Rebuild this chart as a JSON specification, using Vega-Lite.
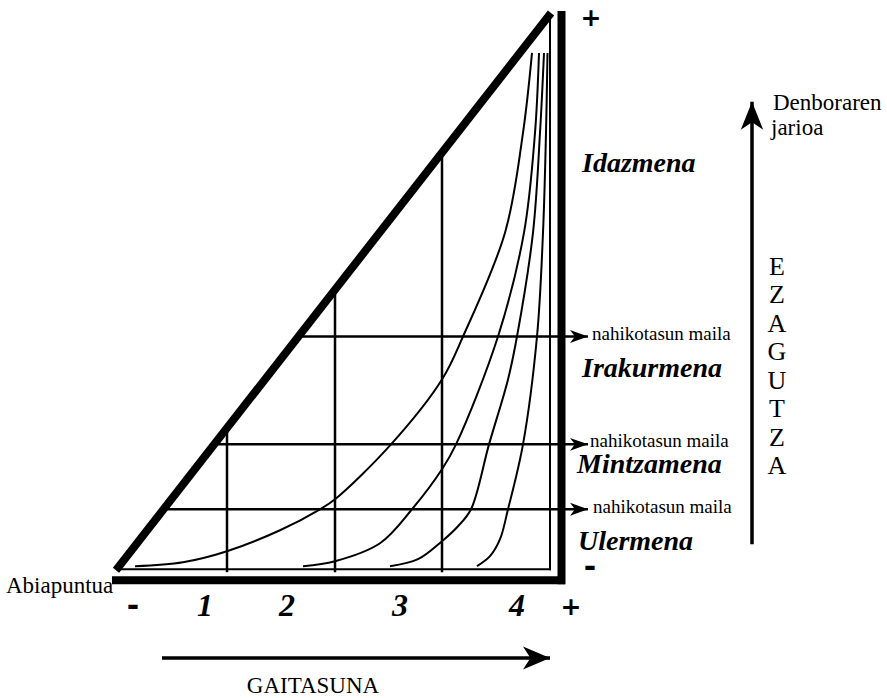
{
  "$schema": "https://vega.github.io/schema/vega-lite/v6.json",
  "width": 887,
  "height": 698,
  "autosize": {"type": "fit", "contains": "padding"},
  "padding": 0,
  "background": "white",
  "config": {"view": {"stroke": null}},
  "datasets": {
    "frame": [
      {"x": 116, "y": 571, "x2": 551, "y2": 13, "kind": "thick"},
      {"x": 561.5, "y": 11, "x2": 561.5, "y2": 585, "kind": "thick"},
      {"x": 112, "y": 581, "x2": 565, "y2": 581, "kind": "thick"},
      {"x": 116, "y": 570, "x2": 551, "y2": 570, "kind": "thin"},
      {"x": 550, "y": 14, "x2": 550, "y2": 571, "kind": "thin"},
      {"x": 227, "y": 431, "x2": 227, "y2": 573, "kind": "grid"},
      {"x": 335, "y": 290, "x2": 335, "y2": 573, "kind": "grid"},
      {"x": 442, "y": 153, "x2": 442, "y2": 573, "kind": "grid"}
    ],
    "arrows": [
      {"x": 298, "y": 337, "x2": 588, "y2": 337, "kind": "level"},
      {"x": 216, "y": 445, "x2": 588, "y2": 445, "kind": "level"},
      {"x": 164, "y": 510, "x2": 588, "y2": 510, "kind": "level"},
      {"x": 752, "y": 545, "x2": 752, "y2": 102, "kind": "time"},
      {"x": 162, "y": 659, "x2": 550, "y2": 659, "kind": "skill"}
    ],
    "curves": [
      {"curve": 1, "x": 135, "y": 567},
      {"curve": 1, "x": 183, "y": 563},
      {"curve": 1, "x": 227, "y": 552},
      {"curve": 1, "x": 280, "y": 531},
      {"curve": 1, "x": 320, "y": 510},
      {"curve": 1, "x": 335, "y": 500},
      {"curve": 1, "x": 391, "y": 445},
      {"curve": 1, "x": 442, "y": 380},
      {"curve": 1, "x": 463, "y": 337},
      {"curve": 1, "x": 505, "y": 233},
      {"curve": 1, "x": 523, "y": 133},
      {"curve": 1, "x": 532, "y": 53},
      {"curve": 2, "x": 303, "y": 567},
      {"curve": 2, "x": 335, "y": 562},
      {"curve": 2, "x": 380, "y": 544},
      {"curve": 2, "x": 412, "y": 510},
      {"curve": 2, "x": 442, "y": 470},
      {"curve": 2, "x": 456, "y": 445},
      {"curve": 2, "x": 498, "y": 337},
      {"curve": 2, "x": 524, "y": 233},
      {"curve": 2, "x": 535, "y": 133},
      {"curve": 2, "x": 539, "y": 53},
      {"curve": 3, "x": 390, "y": 567},
      {"curve": 3, "x": 418, "y": 560},
      {"curve": 3, "x": 442, "y": 542},
      {"curve": 3, "x": 458, "y": 527},
      {"curve": 3, "x": 471, "y": 510},
      {"curve": 3, "x": 489, "y": 445},
      {"curve": 3, "x": 508, "y": 380},
      {"curve": 3, "x": 517, "y": 337},
      {"curve": 3, "x": 533, "y": 233},
      {"curve": 3, "x": 540, "y": 133},
      {"curve": 3, "x": 544, "y": 53},
      {"curve": 4, "x": 477, "y": 567},
      {"curve": 4, "x": 490, "y": 557},
      {"curve": 4, "x": 500, "y": 540},
      {"curve": 4, "x": 508, "y": 510},
      {"curve": 4, "x": 523, "y": 445},
      {"curve": 4, "x": 537, "y": 337},
      {"curve": 4, "x": 543, "y": 233},
      {"curve": 4, "x": 546, "y": 133},
      {"curve": 4, "x": 547.5, "y": 53}
    ],
    "plain": [
      {"x": 6, "y": 594, "label": "Abiapuntua"},
      {"x": 592, "y": 340, "label": "nahikotasun maila"},
      {"x": 590, "y": 448, "label": "nahikotasun maila"},
      {"x": 593, "y": 514, "label": "nahikotasun maila"},
      {"x": 773, "y": 110, "label": "Denboraren"},
      {"x": 771, "y": 135, "label": "jarioa"}
    ],
    "axisname": [
      {"x": 313, "y": 694, "label": "GAITASUNA"},
      {"x": 777, "y": 275, "label": "E"},
      {"x": 777, "y": 303.5, "label": "Z"},
      {"x": 777, "y": 332, "label": "A"},
      {"x": 777, "y": 361, "label": "G"},
      {"x": 777, "y": 389.5, "label": "U"},
      {"x": 777, "y": 418, "label": "T"},
      {"x": 777, "y": 447, "label": "Z"},
      {"x": 777, "y": 475, "label": "A"}
    ],
    "skills": [
      {"x": 582, "y": 172, "label": "Idazmena"},
      {"x": 582, "y": 378, "label": "Irakurmena"},
      {"x": 577, "y": 474, "label": "Mintzamena"},
      {"x": 578, "y": 551, "label": "Ulermena"}
    ],
    "levels": [
      {"x": 205, "y": 617, "label": "1"},
      {"x": 287, "y": 617, "label": "2"},
      {"x": 400, "y": 617, "label": "3"},
      {"x": 517, "y": 617, "label": "4"}
    ],
    "signs": [
      {"x": 591, "y": 18, "label": "+"},
      {"x": 590, "y": 569, "label": "-"},
      {"x": 133, "y": 608, "label": "-"},
      {"x": 571, "y": 608, "label": "+"}
    ]
  },
  "layer": [
    {
      "data": {"name": "frame"},
      "transform": [{"filter": "datum.kind === 'thick'"}],
      "mark": {"type": "rule", "strokeWidth": 8, "color": "black"},
      "encoding": {
        "x": {"field": "x", "type": "quantitative", "scale": {"domain": [0, 887], "nice": false, "zero": false}, "axis": null},
        "y": {"field": "y", "type": "quantitative", "scale": {"domain": [0, 698], "nice": false, "zero": false, "reverse": true}, "axis": null},
        "x2": {"field": "x2"},
        "y2": {"field": "y2"}
      }
    },
    {
      "data": {"name": "frame"},
      "transform": [{"filter": "datum.kind === 'thin'"}],
      "mark": {"type": "rule", "strokeWidth": 2, "color": "black"},
      "encoding": {
        "x": {"field": "x", "type": "quantitative", "scale": {"domain": [0, 887], "nice": false, "zero": false}, "axis": null},
        "y": {"field": "y", "type": "quantitative", "scale": {"domain": [0, 698], "nice": false, "zero": false, "reverse": true}, "axis": null},
        "x2": {"field": "x2"},
        "y2": {"field": "y2"}
      }
    },
    {
      "data": {"name": "frame"},
      "transform": [{"filter": "datum.kind === 'grid'"}],
      "mark": {"type": "rule", "strokeWidth": 2.5, "color": "black"},
      "encoding": {
        "x": {"field": "x", "type": "quantitative", "scale": {"domain": [0, 887], "nice": false, "zero": false}, "axis": null},
        "y": {"field": "y", "type": "quantitative", "scale": {"domain": [0, 698], "nice": false, "zero": false, "reverse": true}, "axis": null},
        "x2": {"field": "x2"},
        "y2": {"field": "y2"}
      }
    },
    {
      "data": {"name": "curves"},
      "mark": {"type": "line", "interpolate": "catmull-rom", "strokeWidth": 2, "color": "black"},
      "encoding": {
        "x": {"field": "x", "type": "quantitative", "scale": {"domain": [0, 887], "nice": false, "zero": false}, "axis": null},
        "y": {"field": "y", "type": "quantitative", "scale": {"domain": [0, 698], "nice": false, "zero": false, "reverse": true}, "axis": null},
        "detail": {"field": "curve", "type": "nominal"}
      }
    },
    {
      "data": {"name": "arrows"},
      "transform": [{"filter": "datum.kind === 'level'"}],
      "mark": {"type": "rule", "strokeWidth": 2.5, "color": "black"},
      "encoding": {
        "x": {"field": "x", "type": "quantitative", "scale": {"domain": [0, 887], "nice": false, "zero": false}, "axis": null},
        "y": {"field": "y", "type": "quantitative", "scale": {"domain": [0, 698], "nice": false, "zero": false, "reverse": true}, "axis": null},
        "x2": {"field": "x2"},
        "y2": {"field": "y2"}
      }
    },
    {
      "data": {"name": "arrows"},
      "transform": [{"filter": "datum.kind !== 'level'"}],
      "mark": {"type": "rule", "strokeWidth": 3.5, "color": "black"},
      "encoding": {
        "x": {"field": "x", "type": "quantitative", "scale": {"domain": [0, 887], "nice": false, "zero": false}, "axis": null},
        "y": {"field": "y", "type": "quantitative", "scale": {"domain": [0, 698], "nice": false, "zero": false, "reverse": true}, "axis": null},
        "x2": {"field": "x2"},
        "y2": {"field": "y2"}
      }
    },
    {
      "data": {"name": "arrows"},
      "transform": [{"filter": "datum.kind === 'level'"}],
      "mark": {"type": "point", "filled": true, "color": "black", "opacity": 1, "strokeWidth": 0, "size": 324, "shape": "M0,0L-2,-0.72L-1.45,0L-2,0.72Z"},
      "encoding": {
        "x": {"field": "x2", "type": "quantitative", "scale": {"domain": [0, 887], "nice": false, "zero": false}, "axis": null},
        "y": {"field": "y2", "type": "quantitative", "scale": {"domain": [0, 698], "nice": false, "zero": false, "reverse": true}, "axis": null}
      }
    },
    {
      "data": {"name": "arrows"},
      "transform": [{"filter": "datum.kind === 'skill'"}],
      "mark": {"type": "point", "filled": true, "color": "black", "opacity": 1, "strokeWidth": 0, "size": 729, "shape": "M0,0L-2,-0.85L-1.45,0L-2,0.85Z"},
      "encoding": {
        "x": {"field": "x2", "type": "quantitative", "scale": {"domain": [0, 887], "nice": false, "zero": false}, "axis": null},
        "y": {"field": "y2", "type": "quantitative", "scale": {"domain": [0, 698], "nice": false, "zero": false, "reverse": true}, "axis": null}
      }
    },
    {
      "data": {"name": "arrows"},
      "transform": [{"filter": "datum.kind === 'time'"}],
      "mark": {"type": "point", "filled": true, "color": "black", "opacity": 1, "strokeWidth": 0, "size": 784, "shape": "M0,0L-0.8,2L0,1.45L0.8,2Z"},
      "encoding": {
        "x": {"field": "x2", "type": "quantitative", "scale": {"domain": [0, 887], "nice": false, "zero": false}, "axis": null},
        "y": {"field": "y2", "type": "quantitative", "scale": {"domain": [0, 698], "nice": false, "zero": false, "reverse": true}, "axis": null}
      }
    },
    {
      "data": {"name": "plain"},
      "mark": {"type": "text", "align": "left", "baseline": "alphabetic", "font": "Liberation Serif", "fontSize": 19, "color": "black"},
      "encoding": {
        "x": {"field": "x", "type": "quantitative", "scale": {"domain": [0, 887], "nice": false, "zero": false}, "axis": null},
        "y": {"field": "y", "type": "quantitative", "scale": {"domain": [0, 698], "nice": false, "zero": false, "reverse": true}, "axis": null},
        "text": {"field": "label"},
        "size": {"condition": {"test": "datum.label === 'Denboraren' || datum.label === 'jarioa' || datum.label === 'Abiapuntua'", "value": 23}, "value": 19}
      }
    },
    {
      "data": {"name": "axisname"},
      "mark": {"type": "text", "align": "center", "baseline": "alphabetic", "font": "Liberation Serif", "fontSize": 26, "color": "black"},
      "encoding": {
        "x": {"field": "x", "type": "quantitative", "scale": {"domain": [0, 887], "nice": false, "zero": false}, "axis": null},
        "y": {"field": "y", "type": "quantitative", "scale": {"domain": [0, 698], "nice": false, "zero": false, "reverse": true}, "axis": null},
        "text": {"field": "label"},
        "size": {"condition": {"test": "datum.label === 'GAITASUNA'", "value": 23}, "value": 26}
      }
    },
    {
      "data": {"name": "skills"},
      "mark": {"type": "text", "align": "left", "baseline": "alphabetic", "font": "Liberation Serif", "fontSize": 28, "fontWeight": "bold", "fontStyle": "italic", "color": "black"},
      "encoding": {
        "x": {"field": "x", "type": "quantitative", "scale": {"domain": [0, 887], "nice": false, "zero": false}, "axis": null},
        "y": {"field": "y", "type": "quantitative", "scale": {"domain": [0, 698], "nice": false, "zero": false, "reverse": true}, "axis": null},
        "text": {"field": "label"}
      }
    },
    {
      "data": {"name": "levels"},
      "mark": {"type": "text", "align": "center", "baseline": "alphabetic", "font": "Liberation Serif", "fontSize": 32, "fontWeight": "bold", "fontStyle": "italic", "color": "black"},
      "encoding": {
        "x": {"field": "x", "type": "quantitative", "scale": {"domain": [0, 887], "nice": false, "zero": false}, "axis": null},
        "y": {"field": "y", "type": "quantitative", "scale": {"domain": [0, 698], "nice": false, "zero": false, "reverse": true}, "axis": null},
        "text": {"field": "label"}
      }
    },
    {
      "data": {"name": "signs"},
      "mark": {"type": "text", "align": "center", "baseline": "middle", "font": "DejaVu Sans", "fontSize": 26, "fontWeight": "bold", "color": "black"},
      "encoding": {
        "x": {"field": "x", "type": "quantitative", "scale": {"domain": [0, 887], "nice": false, "zero": false}, "axis": null},
        "y": {"field": "y", "type": "quantitative", "scale": {"domain": [0, 698], "nice": false, "zero": false, "reverse": true}, "axis": null},
        "text": {"field": "label"},
        "size": {"condition": {"test": "datum.label === '-'", "value": 30}, "value": 25}
      }
    }
  ]
}
